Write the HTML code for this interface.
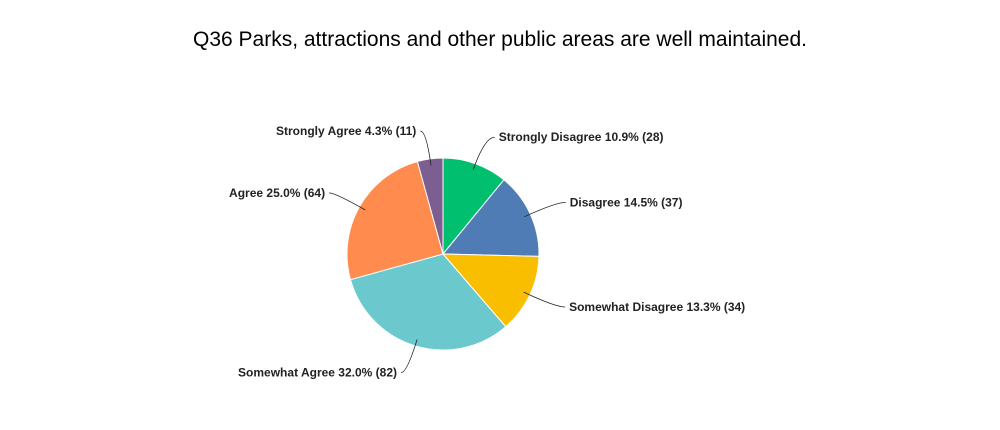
<!DOCTYPE html>
<html><head><meta charset="utf-8"><style>
body{margin:0;background:#fff;}
svg{display:block;font-family:"Liberation Sans",sans-serif;}
</style></head><body>
<svg id="chart" width="1000" height="430">
<text x="500" y="46" text-anchor="middle" font-size="21" fill="#000">Q36 Parks, attractions and other public areas are well maintained.</text>
<g id="slices"></g><g id="labels"></g>
</svg>
<script>
const categories=["Strongly Disagree","Disagree","Somewhat Disagree","Somewhat Agree","Agree","Strongly Agree"];
const counts=[28,37,34,82,64,11];
const percents=["10.9%","14.5%","13.3%","32.0%","25.0%","4.3%"];
const colors=["#00bf6f","#507cb6","#f9be00","#6bc8cd","#ff8b4f","#7d5e90"];
const cx=443,cy=254,r=96,NS="http://www.w3.org/2000/svg";
const total=counts.reduce((a,b)=>a+b,0);
const sg=document.getElementById('slices'),lg=document.getElementById('labels');
function pt(a,rad){return [cx+rad*Math.sin(a),cy-rad*Math.cos(a)];}
let acc=0;
counts.forEach((v,i)=>{
 const a0=acc/total*2*Math.PI;acc+=v;const a1=acc/total*2*Math.PI;
 const p0=pt(a0,r),p1=pt(a1,r);
 const p=document.createElementNS(NS,'path');
 p.setAttribute('d',`M${cx},${cy}L${p0[0]},${p0[1]}A${r},${r} 0 ${a1-a0>Math.PI?1:0} 1 ${p1[0]},${p1[1]}Z`);
 p.setAttribute('fill',colors[i]);p.setAttribute('stroke','#fff');p.setAttribute('stroke-width','1');
 
 
 sg.appendChild(p);
 const am=(a0+a1)/2,s=pt(am,r*0.93),L=pt(am,r+28);
 const right=Math.sin(am)>=0;
 const tx=L[0]+(right?14:-10);
 const ln=document.createElementNS(NS,'path');
 ln.setAttribute('d',`M${s[0]},${s[1]}Q${L[0]},${L[1]} ${tx-(right?4:-4)},${L[1]}`);
 ln.setAttribute('fill','none');ln.setAttribute('stroke','#222');ln.setAttribute('stroke-width','0.8');
 
 
 lg.appendChild(ln);
 const t=document.createElementNS(NS,'text');
 t.setAttribute('x',tx);t.setAttribute('y',L[1]+4);
 t.setAttribute('text-anchor',right?'start':'end');
 t.setAttribute('font-size','12');t.setAttribute('font-weight','bold');t.setAttribute('fill','#222');
 t.textContent=`${categories[i]} ${percents[i]} (${counts[i]})`;
 
 
 lg.appendChild(t);
});
</script>
</body></html>
